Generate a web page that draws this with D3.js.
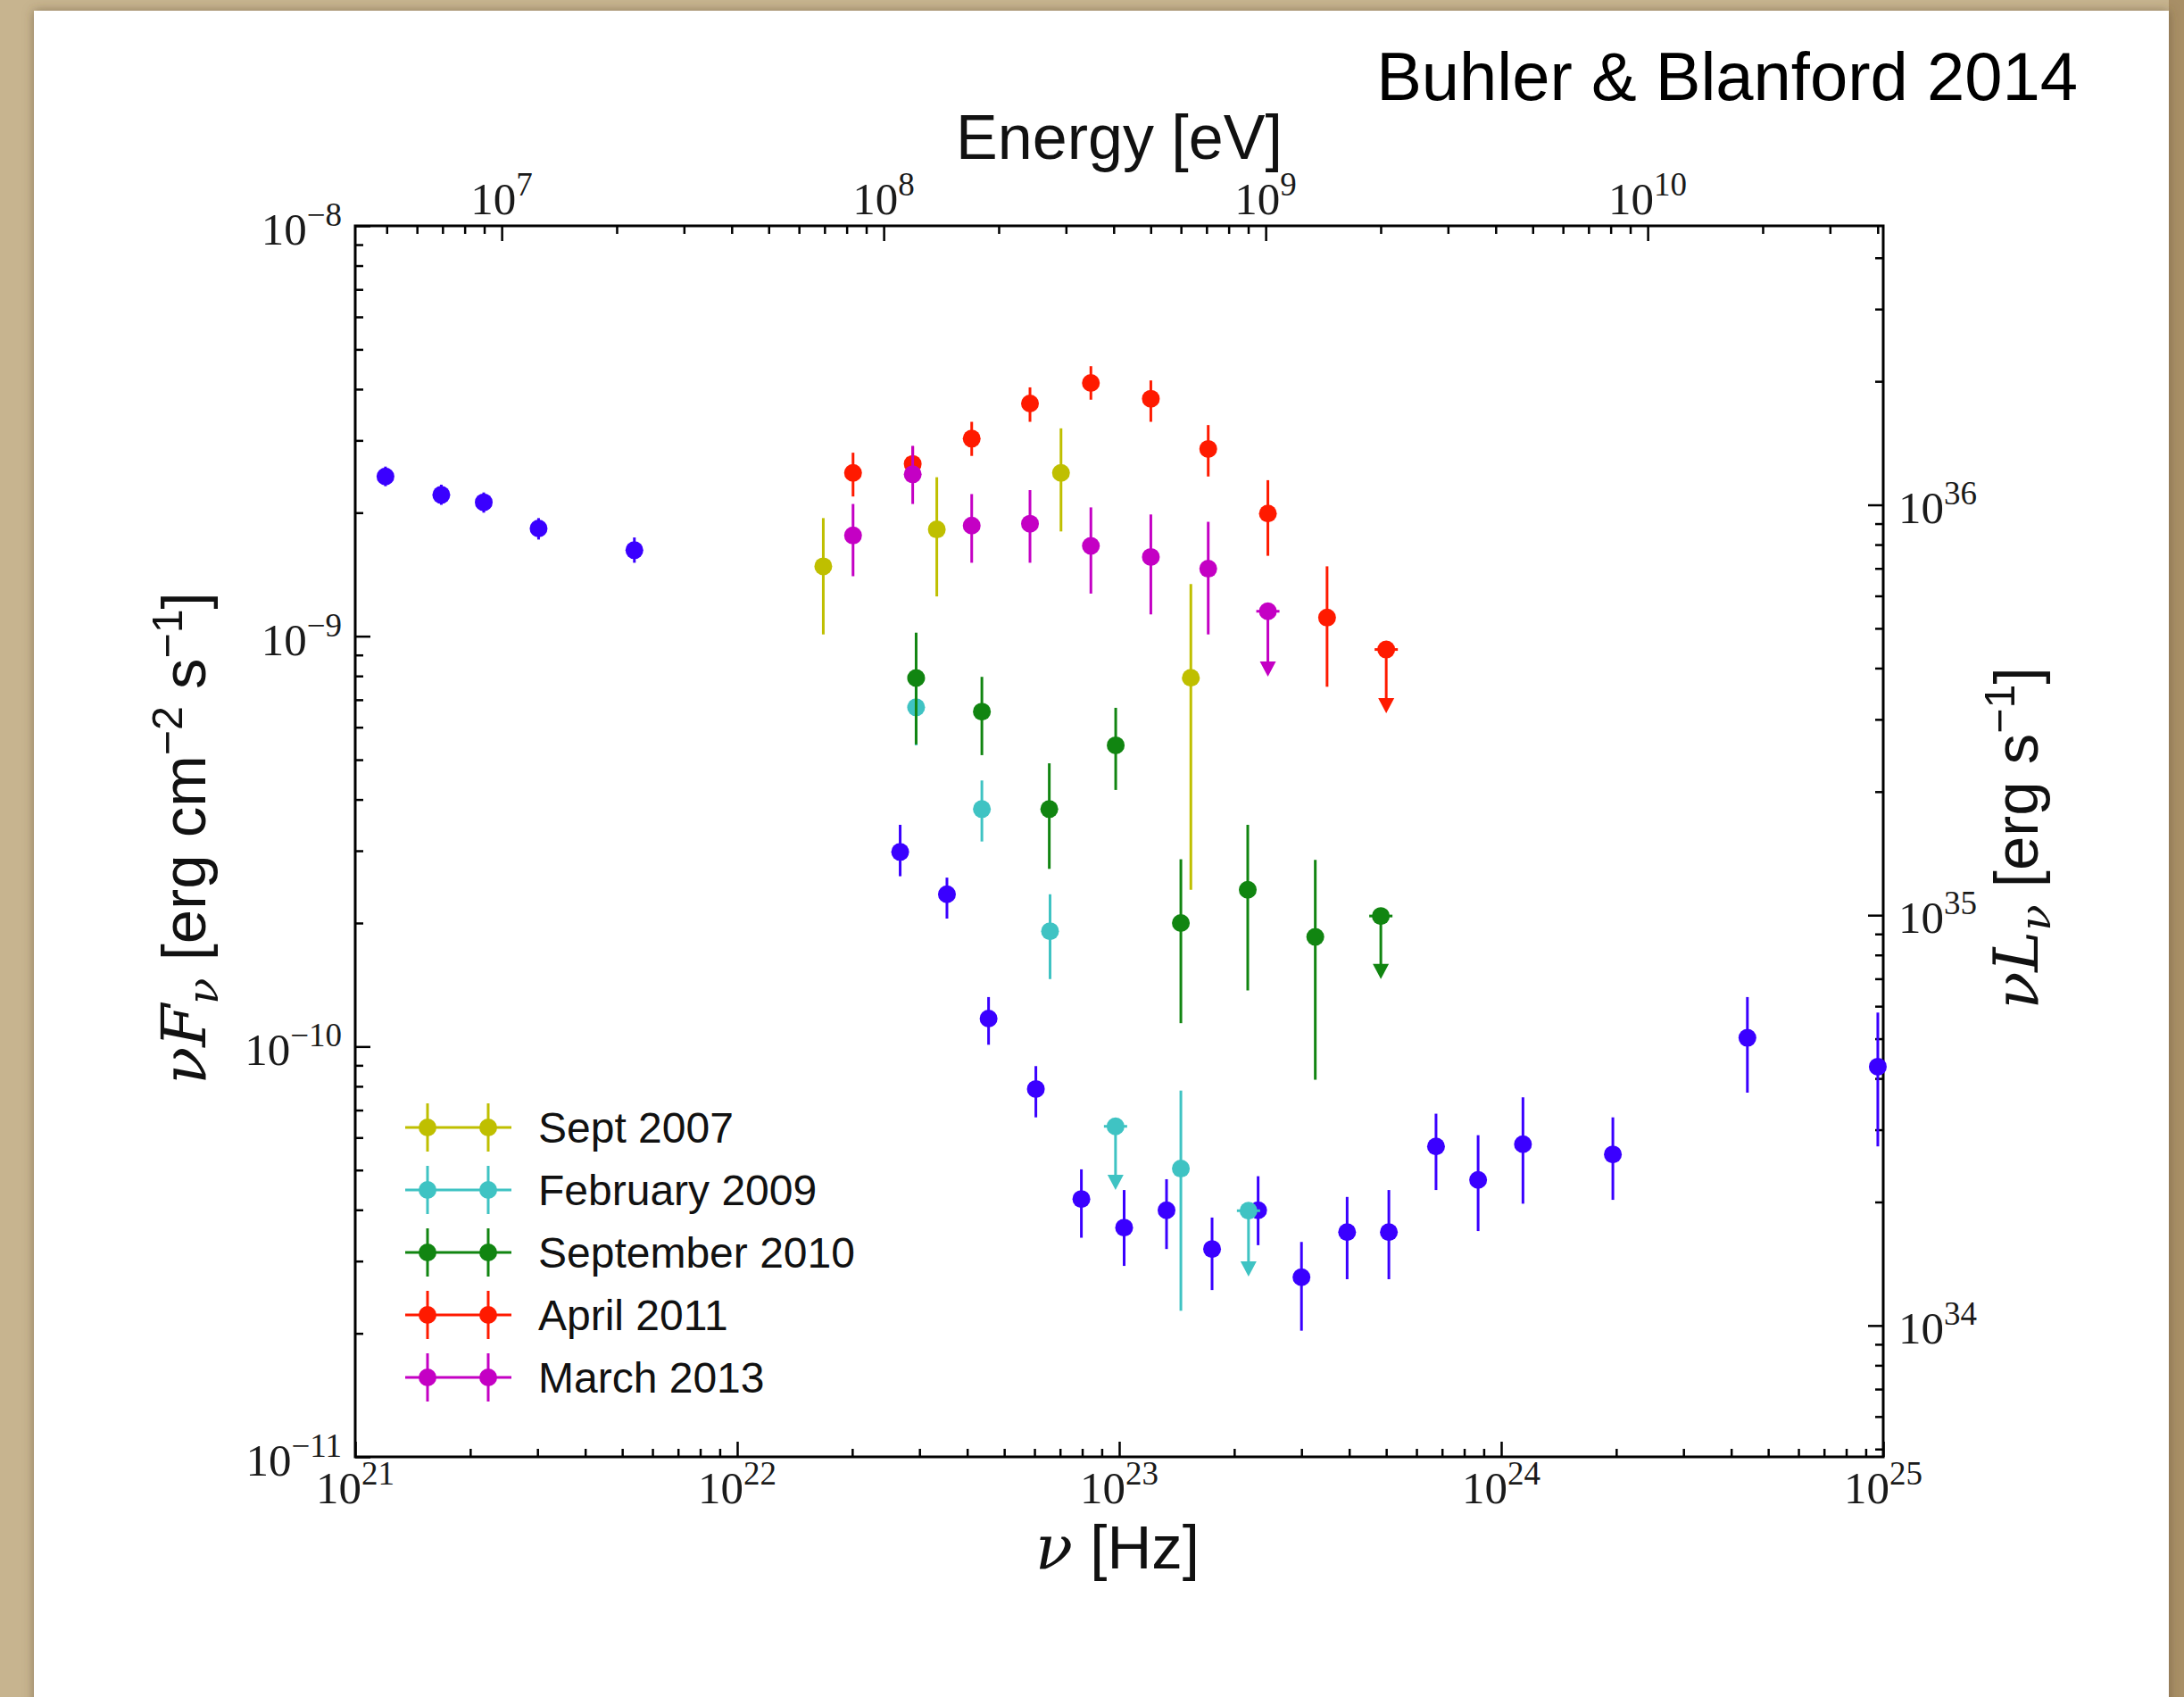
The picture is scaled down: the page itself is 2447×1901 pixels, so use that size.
<!DOCTYPE html>
<html>
<head>
<meta charset="utf-8">
<script src="https://d3js.org/d3.v7.min.js"></script>
<style>
  body { margin: 0; background: #c7b48f; }
  svg { display: block; }
</style>
</head>
<body>
<svg id="chart" width="2447" height="1901"></svg>
<script>

// nu [Hz], nuFnu [erg cm^-2 s^-1], lo/hi = error bar ends, lim = end of upper-limit arrow
var quiescent = [
  {nu: 1.20e21, f: 2.45e-9, lo: 2.32e-9, hi: 2.59e-9},
  {nu: 1.68e21, f: 2.21e-9, lo: 2.09e-9, hi: 2.34e-9},
  {nu: 2.17e21, f: 2.12e-9, lo: 2.00e-9, hi: 2.24e-9},
  {nu: 3.02e21, f: 1.83e-9, lo: 1.72e-9, hi: 1.94e-9},
  {nu: 5.38e21, f: 1.62e-9, lo: 1.51e-9, hi: 1.74e-9},
  {nu: 2.67e22, f: 2.98e-10, lo: 2.60e-10, hi: 3.47e-10},
  {nu: 3.54e22, f: 2.35e-10, lo: 2.05e-10, hi: 2.58e-10},
  {nu: 4.55e22, f: 1.17e-10, lo: 1.01e-10, hi: 1.32e-10},
  {nu: 6.05e22, f: 7.88e-11, lo: 6.72e-11, hi: 8.96e-11},
  {nu: 7.96e22, f: 4.25e-11, lo: 3.42e-11, hi: 5.02e-11},
  {nu: 1.03e23, f: 3.62e-11, lo: 2.92e-11, hi: 4.47e-11},
  {nu: 1.33e23, f: 3.99e-11, lo: 3.21e-11, hi: 4.75e-11},
  {nu: 1.75e23, f: 3.21e-11, lo: 2.55e-11, hi: 3.83e-11},
  {nu: 2.31e23, f: 3.99e-11, lo: 3.28e-11, hi: 4.83e-11},
  {nu: 3.00e23, f: 2.74e-11, lo: 2.03e-11, hi: 3.34e-11},
  {nu: 3.95e23, f: 3.53e-11, lo: 2.71e-11, hi: 4.30e-11},
  {nu: 5.08e23, f: 3.53e-11, lo: 2.71e-11, hi: 4.47e-11},
  {nu: 6.75e23, f: 5.71e-11, lo: 4.47e-11, hi: 6.86e-11},
  {nu: 8.70e23, f: 4.73e-11, lo: 3.55e-11, hi: 6.08e-11},
  {nu: 1.14e24, f: 5.78e-11, lo: 4.14e-11, hi: 7.52e-11},
  {nu: 1.96e24, f: 5.46e-11, lo: 4.23e-11, hi: 6.72e-11},
  {nu: 4.41e24, f: 1.05e-10, lo: 7.72e-11, hi: 1.32e-10},
  {nu: 9.68e24, f: 8.93e-11, lo: 5.71e-11, hi: 1.21e-10}
];

var sept2007 = [
  {nu: 1.68e22, f: 1.48e-9, lo: 1.01e-9, hi: 1.94e-9},
  {nu: 3.33e22, f: 1.82e-9, lo: 1.25e-9, hi: 2.44e-9},
  {nu: 7.04e22, f: 2.50e-9, lo: 1.80e-9, hi: 3.21e-9},
  {nu: 1.54e23, f: 7.92e-10, lo: 2.41e-10, hi: 1.34e-9}
];

var feb2009 = [
  {nu: 2.94e22, f: 6.71e-10, lo: 5.42e-10, hi: 8.30e-10},
  {nu: 4.37e22, f: 3.79e-10, lo: 3.16e-10, hi: 4.45e-10},
  {nu: 6.59e22, f: 1.91e-10, lo: 1.46e-10, hi: 2.35e-10},
  {nu: 9.78e22, f: 6.39e-11, lim: 4.47e-11},
  {nu: 1.45e23, f: 5.04e-11, lo: 2.27e-11, hi: 7.81e-11},
  {nu: 2.18e23, f: 3.98e-11, lim: 2.75e-11}
];

var sep2010 = [
  {nu: 2.94e22, f: 7.91e-10, lo: 5.45e-10, hi: 1.02e-9},
  {nu: 4.37e22, f: 6.55e-10, lo: 5.13e-10, hi: 7.96e-10},
  {nu: 6.56e22, f: 3.79e-10, lo: 2.71e-10, hi: 4.90e-10},
  {nu: 9.79e22, f: 5.42e-10, lo: 4.22e-10, hi: 6.69e-10},
  {nu: 1.45e23, f: 2.00e-10, lo: 1.14e-10, hi: 2.86e-10},
  {nu: 2.17e23, f: 2.41e-10, lo: 1.37e-10, hi: 3.47e-10},
  {nu: 3.26e23, f: 1.85e-10, lo: 8.30e-11, hi: 2.85e-10},
  {nu: 4.84e23, f: 2.08e-10, lim: 1.46e-10}
];

var apr2011 = [
  {nu: 2.01e22, f: 2.50e-9, lo: 2.19e-9, hi: 2.80e-9},
  {nu: 2.88e22, f: 2.63e-9, lo: 2.38e-9, hi: 2.90e-9},
  {nu: 4.11e22, f: 3.03e-9, lo: 2.75e-9, hi: 3.33e-9},
  {nu: 5.84e22, f: 3.69e-9, lo: 3.33e-9, hi: 4.04e-9},
  {nu: 8.43e22, f: 4.14e-9, lo: 3.77e-9, hi: 4.55e-9},
  {nu: 1.21e23, f: 3.79e-9, lo: 3.33e-9, hi: 4.20e-9},
  {nu: 1.71e23, f: 2.86e-9, lo: 2.45e-9, hi: 3.27e-9},
  {nu: 2.45e23, f: 1.99e-9, lo: 1.57e-9, hi: 2.40e-9},
  {nu: 3.50e23, f: 1.11e-9, lo: 7.53e-10, hi: 1.48e-9},
  {nu: 5.00e23, f: 9.28e-10, lim: 6.49e-10}
];

var mar2013 = [
  {nu: 2.01e22, f: 1.76e-9, lo: 1.40e-9, hi: 2.10e-9},
  {nu: 2.88e22, f: 2.48e-9, lo: 2.10e-9, hi: 2.91e-9},
  {nu: 4.11e22, f: 1.86e-9, lo: 1.51e-9, hi: 2.22e-9},
  {nu: 5.84e22, f: 1.88e-9, lo: 1.51e-9, hi: 2.27e-9},
  {nu: 8.43e22, f: 1.66e-9, lo: 1.27e-9, hi: 2.06e-9},
  {nu: 1.21e23, f: 1.56e-9, lo: 1.13e-9, hi: 1.98e-9},
  {nu: 1.71e23, f: 1.46e-9, lo: 1.01e-9, hi: 1.90e-9},
  {nu: 2.45e23, f: 1.15e-9, lim: 7.97e-10}
];

var legendNames = ["Sept 2007", "February 2009", "September 2010", "April 2011", "March 2013"];
var legendColors = ["#bfbf00", "#3fc3c3", "#118511", "#ff1a00", "#c400c4"];
var quiescentColor = "#3a00ff";

var nuDecades = [1e21, 1e22, 1e23, 1e24, 1e25];
var fluxDecades = [1e-11, 1e-10, 1e-9, 1e-8];
var energyDecades = [1e7, 1e8, 1e9, 1e10];
var lumDecades = [1e34, 1e35, 1e36];

var PLANCK_EV = 4.135667e-15;   // eV per Hz
var LUM_FACTOR = 4.785e44;      // 4 pi d^2, d = 2 kpc

var svg = d3.select("#chart");
var pLeft = 398, pRight = 2110, pTop = 253, pBottom = 1632;

var x = d3.scaleLog().domain([1e21, 1e25]).range([pLeft, pRight]);
var y = d3.scaleLog().domain([1e-11, 1e-8]).range([pBottom, pTop]);
var xTop = d3.scaleLog().domain([1e21 * PLANCK_EV, 1e25 * PLANCK_EV]).range([pLeft, pRight]);
var yRight = d3.scaleLog().domain([1e-11 * LUM_FACTOR, 1e-8 * LUM_FACTOR]).range([pBottom, pTop]);

// paper background
var defs = svg.append("defs");
var shadow = defs.append("filter").attr("id", "shadow")
  .attr("x", "-5%").attr("y", "-5%").attr("width", "110%").attr("height", "110%");
shadow.append("feDropShadow").attr("dx", 0).attr("dy", 0)
  .attr("stdDeviation", 6).attr("flood-color", "#5a4a30").attr("flood-opacity", 0.55);

svg.append("rect").attr("width", 2447).attr("height", 1901).attr("fill", "#c7b48f");
svg.append("rect").attr("x", 2430).attr("width", 17).attr("height", 1901).attr("fill", "#a88f66");
svg.append("rect")
  .attr("x", 38).attr("y", 12).attr("width", 2392).attr("height", 1930)
  .attr("fill", "#ffffff").attr("filter", "url(#shadow)");

function isDecade(v) {
  var l = Math.log10(v);
  return Math.abs(l - Math.round(l)) < 1e-6;
}

function minorsOf(scale) {
  return scale.ticks().filter(function(v) { return !isDecade(v); });
}

function cleanAxis(g) {
  g.select(".domain").remove();
  g.selectAll(".tick line").attr("stroke", "#000").attr("stroke-width", 2.5);
  g.selectAll(".tick text").remove();
}

function powLabel(text, v) {
  var e = Math.round(Math.log10(v));
  text.append("tspan").text("10");
  text.append("tspan").attr("dy", -21).attr("font-size", 37)
    .text(e < 0 ? "\u2212" + (-e) : String(e));
}

var axes = svg.append("g");

// bottom: nu
axes.append("g").attr("transform", "translate(0," + pBottom + ")")
  .call(d3.axisBottom(x).tickValues(minorsOf(x)).tickSize(-9)).call(cleanAxis);
axes.append("g").attr("transform", "translate(0," + pBottom + ")")
  .call(d3.axisBottom(x).tickValues(nuDecades).tickSize(-17)).call(cleanAxis);

// left: nuFnu
axes.append("g").attr("transform", "translate(" + pLeft + ",0)")
  .call(d3.axisLeft(y).tickValues(minorsOf(y)).tickSize(-9)).call(cleanAxis);
axes.append("g").attr("transform", "translate(" + pLeft + ",0)")
  .call(d3.axisLeft(y).tickValues(fluxDecades).tickSize(-17)).call(cleanAxis);

// top: energy
axes.append("g").attr("transform", "translate(0," + pTop + ")")
  .call(d3.axisTop(xTop).tickValues(minorsOf(xTop)).tickSize(-9)).call(cleanAxis);
axes.append("g").attr("transform", "translate(0," + pTop + ")")
  .call(d3.axisTop(xTop).tickValues(energyDecades).tickSize(-17)).call(cleanAxis);

// right: nuLnu
axes.append("g").attr("transform", "translate(" + pRight + ",0)")
  .call(d3.axisRight(yRight).tickValues(minorsOf(yRight)).tickSize(-9)).call(cleanAxis);
axes.append("g").attr("transform", "translate(" + pRight + ",0)")
  .call(d3.axisRight(yRight).tickValues(lumDecades).tickSize(-17)).call(cleanAxis);

var tickFont = "'Liberation Serif', 'DejaVu Serif', serif";
var labels = svg.append("g").attr("font-family", tickFont).attr("font-size", 51).attr("fill", "#1a1a1a");

labels.selectAll("text.xb").data(nuDecades).enter().append("text")
  .attr("class", "xb").attr("text-anchor", "middle")
  .attr("x", function(d) { return x(d); }).attr("y", pBottom + 52)
  .each(function(d) { powLabel(d3.select(this), d); });

labels.selectAll("text.yl").data(fluxDecades).enter().append("text")
  .attr("class", "yl").attr("text-anchor", "end")
  .attr("x", pLeft - 15).attr("y", function(d) { return y(d) + 21; })
  .each(function(d) { powLabel(d3.select(this), d); });

labels.selectAll("text.xt").data(energyDecades).enter().append("text")
  .attr("class", "xt").attr("text-anchor", "middle")
  .attr("x", function(d) { return xTop(d); }).attr("y", pTop - 13)
  .each(function(d) { powLabel(d3.select(this), d); });

labels.selectAll("text.yr").data(lumDecades).enter().append("text")
  .attr("class", "yr").attr("text-anchor", "start")
  .attr("x", pRight + 17).attr("y", function(d) { return yRight(d) + 20; })
  .each(function(d) { powLabel(d3.select(this), d); });

// frame
svg.append("rect")
  .attr("x", pLeft).attr("y", pTop).attr("width", pRight - pLeft).attr("height", pBottom - pTop)
  .attr("fill", "none").attr("stroke", "#000").attr("stroke-width", 3);

// data
var plot = svg.append("g");

function drawSeries(data, color) {
  var g = plot.append("g");
  var pts = data.filter(function(d) { return !d.lim; });
  var lims = data.filter(function(d) { return d.lim; });

  g.selectAll("line.err").data(pts).enter().append("line")
    .attr("x1", function(d) { return x(d.nu); }).attr("x2", function(d) { return x(d.nu); })
    .attr("y1", function(d) { return y(d.hi); }).attr("y2", function(d) { return y(d.lo); })
    .attr("stroke", color).attr("stroke-width", 3);

  g.selectAll("line.ul").data(lims).enter().append("line")
    .attr("x1", function(d) { return x(d.nu); }).attr("x2", function(d) { return x(d.nu); })
    .attr("y1", function(d) { return y(d.f); }).attr("y2", function(d) { return y(d.lim) - 8; })
    .attr("stroke", color).attr("stroke-width", 3);

  g.selectAll("line.cap").data(lims).enter().append("line")
    .attr("x1", function(d) { return x(d.nu) - 13; }).attr("x2", function(d) { return x(d.nu) + 13; })
    .attr("y1", function(d) { return y(d.f); }).attr("y2", function(d) { return y(d.f); })
    .attr("stroke", color).attr("stroke-width", 3);

  g.selectAll("path.arrow").data(lims).enter().append("path")
    .attr("d", function(d) {
      var cx = x(d.nu), ty = y(d.lim);
      return "M" + (cx - 9) + "," + (ty - 17) + "L" + (cx + 9) + "," + (ty - 17) + "L" + cx + "," + ty + "Z";
    })
    .attr("fill", color);

  g.selectAll("circle").data(data).enter().append("circle")
    .attr("cx", function(d) { return x(d.nu); })
    .attr("cy", function(d) { return y(d.f); })
    .attr("r", 10)
    .attr("fill", color);
}

drawSeries(quiescent, quiescentColor);
drawSeries(sept2007, legendColors[0]);
drawSeries(feb2009, legendColors[1]);
drawSeries(sep2010, legendColors[2]);
drawSeries(apr2011, legendColors[3]);
drawSeries(mar2013, legendColors[4]);

// legend
var legend = svg.append("g").attr("class", "legend");
var rows = legend.selectAll("g").data(legendNames).enter().append("g")
  .attr("transform", function(d, i) { return "translate(0," + (1263 + i * 70) + ")"; });

rows.append("line").attr("x1", 454).attr("x2", 573).attr("y1", 0).attr("y2", 0)
  .attr("stroke", function(d, i) { return legendColors[i]; }).attr("stroke-width", 3);
[479, 547].forEach(function(mx) {
  rows.append("line").attr("x1", mx).attr("x2", mx).attr("y1", -27).attr("y2", 27)
    .attr("stroke", function(d, i) { return legendColors[i]; }).attr("stroke-width", 3);
  rows.append("circle").attr("cx", mx).attr("cy", 0).attr("r", 10)
    .attr("fill", function(d, i) { return legendColors[i]; });
});
rows.append("text").attr("x", 603).attr("y", 17)
  .attr("font-family", "'Liberation Sans', Arial, sans-serif").attr("font-size", 48)
  .attr("fill", "#111").text(function(d) { return d; });

// axis titles
var sans = "'Liberation Sans', Arial, sans-serif";
var mathFont = "'DejaVu Serif', 'Liberation Serif', serif";

function richText(parent, parts, size) {
  var t = parent.append("text").attr("font-size", size).attr("fill", "#111");
  var prev = 0;
  parts.forEach(function(p) {
    var shift = p.sup ? -0.38 * size : (p.sub ? 0.2 * size : 0);
    var ts = t.append("tspan")
      .attr("font-family", p.math ? mathFont : sans)
      .attr("dy", shift - prev)
      .text(p.t);
    if (p.math) ts.attr("font-style", "italic");
    if (p.sup || p.sub) ts.attr("font-size", size * 0.7);
    prev = shift;
  });
  return t;
}

richText(svg, [
  {t: "\u03bd", math: true}, {t: "F", math: true}, {t: "\u03bd", math: true, sub: true},
  {t: " [erg cm"}, {t: "\u22122", sup: true}, {t: " s"}, {t: "\u22121", sup: true}, {t: "]"}
], 69).attr("text-anchor", "middle").attr("transform", "translate(230,939) rotate(-90)");

richText(svg, [
  {t: "\u03bd", math: true}, {t: "L", math: true}, {t: "\u03bd", math: true, sub: true},
  {t: " [erg s"}, {t: "\u22121", sup: true}, {t: "]"}
], 69).attr("text-anchor", "middle").attr("transform", "translate(2283,939) rotate(-90)");

richText(svg, [{t: "\u03bd", math: true}, {t: " [Hz]"}], 69)
  .attr("text-anchor", "middle").attr("x", 1252).attr("y", 1757);

svg.append("text").attr("x", 1254).attr("y", 178).attr("text-anchor", "middle")
  .attr("font-family", sans).attr("font-size", 70).attr("fill", "#111")
  .text("Energy [eV]");

svg.append("text").attr("x", 2328).attr("y", 112).attr("text-anchor", "end")
  .attr("font-family", sans).attr("font-size", 76).attr("fill", "#000")
  .text("Buhler & Blanford 2014");

</script>
</body>
</html>
